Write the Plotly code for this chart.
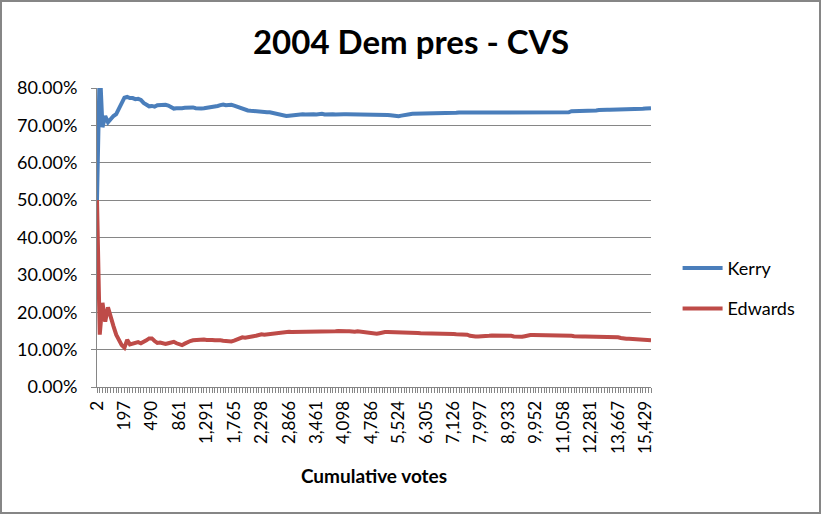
import plotly.graph_objects as go

# Tick labels (cumulative votes) shown every 10th precinct
tick_labels = ["2", "197", "490", "861", "1,291", "1,765", "2,298", "2,866", "3,461",
               "4,098", "4,786", "5,524", "6,305", "7,126", "7,997", "8,933", "9,952",
               "11,058", "12,281", "13,667", "15,429"]
label_step = 10

# Cumulative share, in percent, for each precinct in reporting order
kerry = [
    50, 86, 69.5, 72.5, 70.8, 71.8, 72.5, 73.0, 74.5, 76.5,
    77.4, 77.6, 77.3, 77.3, 77.0, 77.1, 76.8, 76.0, 75.6, 75.1,
    75.2, 75.0, 75.4, 75.4, 75.6, 75.5, 75.3, 74.8, 74.5, 74.6,
    74.5, 74.6, 74.7, 74.8, 74.8, 74.8, 74.6, 74.5, 74.5, 74.6,
    74.7, 74.8, 74.8, 75.0, 75.2, 75.4, 75.6, 75.4, 75.5, 75.5,
    75.3, 75.0, 74.8, 74.4, 74.2, 74.0, 73.9, 73.8, 73.8, 73.7,
    73.6, 73.6, 73.5, 73.5, 73.3, 73.1, 72.9, 72.8, 72.6, 72.5,
    72.6, 72.7, 72.8, 72.9, 73.0, 73.0, 72.9, 73.0, 73.1, 73.0,
    72.9, 73.0, 73.1, 72.9, 73.0, 73.1, 73.0, 72.9, 73.0, 73.0,
    73.0, 73.0, 73.0, 73.0, 73.0, 73.0, 73.0, 73.0, 73.0, 73.0,
    73.0, 73.0, 73.0, 73.0, 72.9, 72.9, 72.8, 72.7, 72.6, 72.5,
    72.45, 72.6, 72.8, 72.9, 73.0, 73.1, 73.1, 73.2, 73.2, 73.2,
    73.2, 73.2, 73.2, 73.2, 73.3, 73.3, 73.3, 73.3, 73.3, 73.3,
    73.3, 73.35, 73.45, 73.45, 73.45, 73.45, 73.45, 73.45, 73.45, 73.45,
    73.45, 73.45, 73.45, 73.45, 73.45, 73.45, 73.45, 73.45, 73.45, 73.45,
    73.45, 73.45, 73.45, 73.45, 73.45, 73.45, 73.45, 73.45, 73.45, 73.45,
    73.45, 73.45, 73.45, 73.45, 73.45, 73.45, 73.45, 73.45, 73.45, 73.45,
    73.45, 73.45, 73.5, 73.8, 73.8, 73.8, 73.8, 73.85, 73.9, 73.9,
    73.9, 74.0, 74.0, 74.1, 74.2, 74.2, 74.2, 74.2, 74.2, 74.2,
    74.25, 74.25, 74.3, 74.4, 74.4, 74.4, 74.4, 74.4, 74.4, 74.45,
    74.5, 74.6, 74.6,
]

edwards = [
    50, 14.0, 22.5, 17.5, 21.3, 18.5, 16.3, 14.0, 12.5, 11.2,
    10.5, 12.6, 11.4, 11.6, 11.8, 12.0, 11.7, 12.0, 12.5, 13.0,
    13.0, 12.3, 11.8, 11.9, 11.7, 11.5, 11.7, 12.0, 12.1, 11.7,
    11.3, 11.2, 11.6, 12.1, 12.3, 12.5, 12.6, 12.7, 12.7, 12.7,
    12.6, 12.7, 12.6, 12.5, 12.6, 12.5, 12.4, 12.3, 12.2, 12.2,
    12.4, 12.8, 13.2, 13.3, 13.2, 13.4, 13.6, 13.6, 13.7, 14.0,
    14.1, 14.0, 14.1, 14.1, 14.3, 14.5, 14.6, 14.7, 14.8, 14.8,
    14.8, 14.7, 14.7, 14.8, 14.8, 14.7, 14.7, 14.8, 14.8, 14.7,
    14.7, 14.8, 14.8, 14.8, 14.7, 14.8, 14.9, 14.9, 15.0, 14.9,
    15.0, 14.9, 14.9, 14.8, 14.8, 14.9, 14.8, 14.8, 14.8, 14.7,
    14.5, 14.3, 14.25, 14.4, 14.6, 14.7, 14.7, 14.7, 14.7, 14.7,
    14.7, 14.6, 14.6, 14.5, 14.5, 14.45, 14.45, 14.45, 14.4, 14.4,
    14.4, 14.4, 14.35, 14.35, 14.35, 14.3, 14.3, 14.25, 14.2, 14.2,
    14.15, 14.1, 14.1, 14.1, 14.05, 14.0, 13.7, 13.5, 13.5, 13.5,
    13.5, 13.5, 13.6, 13.7, 13.8, 13.8, 13.8, 13.8, 13.8, 13.8,
    13.8, 13.7, 13.5, 13.45, 13.45, 13.45, 13.6, 13.8, 13.9, 13.9,
    13.9, 13.9, 13.9, 13.9, 13.9, 13.9, 13.9, 13.9, 13.9, 13.9,
    13.9, 13.9, 13.85, 13.7, 13.6, 13.5, 13.5, 13.5, 13.5, 13.5,
    13.45, 13.4, 13.35, 13.35, 13.35, 13.35, 13.35, 13.35, 13.35, 13.35,
    13.3, 13.1, 12.9, 12.9, 12.9, 12.85, 12.8, 12.7, 12.7, 12.6,
    12.55, 12.5, 12.5,
]

precinct = list(range(len(kerry)))
tick_pos = [i * label_step for i in range(len(tick_labels))]

FONT = "Lato"
GRAY = "#868686"

fig = go.Figure()
fig.add_trace(go.Scatter(x=precinct, y=[v / 100 for v in kerry], mode="lines",
                         name="Kerry", legendgroup="k",
                         line=dict(color="#4A7EBB", width=4)))
fig.add_trace(go.Scatter(x=precinct, y=[v / 100 for v in edwards], mode="lines",
                         name="Edwards", legendgroup="e",
                         line=dict(color="#BE4B48", width=4)))

fig.update_layout(
    width=822, height=515,
    margin=dict(l=97, r=171, t=88, b=128, autoexpand=False),
    paper_bgcolor="white", plot_bgcolor="white",
    font=dict(family=FONT, size=17, color="black"),
    title=dict(text="<b>2004 Dem pres - CVS</b>", x=0.5, xref="container",
               y=1 - 42 / 515, yref="container", xanchor="center", yanchor="middle",
               font=dict(family=FONT, size=33, color="black")),
    showlegend=True,
    legend=dict(x=1.048, xanchor="left", y=0.33, yanchor="middle",
                traceorder="grouped", tracegroupgap=14,
                font=dict(family=FONT, size=18), itemwidth=40,
                bgcolor="rgba(0,0,0,0)"),
    xaxis=dict(range=[0, len(kerry) - 1], showgrid=False, zeroline=False,
               showline=True, linecolor=GRAY, linewidth=1,
               tickmode="array", tickvals=tick_pos, ticktext=tick_labels,
               tickangle=-90, ticks="outside", ticklen=5, tickcolor=GRAY,
               ticklabelstandoff=1,
               minor=dict(dtick=1, tick0=0, ticks="outside", ticklen=5, tickcolor=GRAY),
               tickfont=dict(family=FONT, size=17),
               title=dict(text="<b>Cumulative votes</b>", standoff=16,
                          font=dict(family=FONT, size=19))),
    yaxis=dict(range=[0, 0.8], dtick=0.1, tick0=0, tickformat=".2%",
               showgrid=True, gridcolor=GRAY, gridwidth=1, zeroline=False,
               showline=True, linecolor=GRAY, linewidth=1,
               ticks="outside", ticklen=5, tickcolor=GRAY, ticklabelstandoff=10,
               tickfont=dict(family=FONT, size=18)),
    shapes=[dict(type="rect", xref="paper", yref="paper",
                 x0=(1 - 97) / 554, x1=(820 - 97) / 554,
                 y0=(387 - 513) / 299, y1=(387 - 1) / 299,
                 line=dict(color=GRAY, width=2), fillcolor="rgba(0,0,0,0)", layer="below")],
)

fig.write_html("out.html", config={"displayModeBar": False},
               post_script="document.body.style.margin='0';")
